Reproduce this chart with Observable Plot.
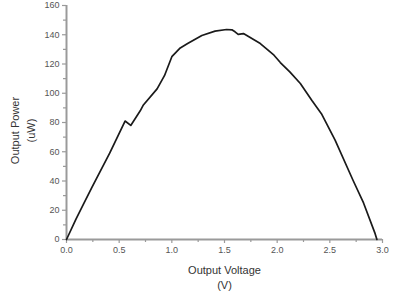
<!DOCTYPE html>
<html>
<head>
<meta charset="utf-8">
<script src="https://cdn.jsdelivr.net/npm/d3@7"></script>
<script src="https://cdn.jsdelivr.net/npm/@observablehq/plot@0.6"></script>
<style>
  html, body { margin: 0; padding: 0; background: #fff; }
</style>
</head>
<body>
<div id="chart"></div>
<script>
// Output voltage (V) and output power (uW)
const voltage = [0, 0.09, 0.16, 0.24, 0.41, 0.556, 0.61, 0.70, 0.73, 0.86, 0.93, 1.0, 1.08, 1.15, 1.285, 1.41, 1.52, 1.57, 1.60, 1.63, 1.68, 1.84, 1.97, 2.03, 2.12, 2.22, 2.33, 2.42, 2.55, 2.72, 2.82, 2.93, 2.947];
const power   = [0, 14, 24, 35.5, 59, 81, 78, 88, 92, 103, 112, 125, 131, 134, 139.5, 142.5, 143.6, 143.4, 142, 140.2, 140.8, 134, 126, 121, 114.6, 106.7, 95, 86, 68, 40.5, 25, 4, 0];

const xTicks = [0, 0.5, 1.0, 1.5, 2.0, 2.5, 3.0];
const xMinor = [0.25, 0.75, 1.25, 1.75, 2.25, 2.75];
const yTicks = [0, 20, 40, 60, 80, 100, 120, 140, 160];
const yMinor = [10, 30, 50, 70, 90, 110, 130, 150];

const xLabel = "Output Voltage";
const xUnit = "(V)";
const yLabel = "Output Power";
const yUnit = "(uW)";

const data = voltage.map((v, i) => ({v, p: power[i]}));

const axisColor = "#9a9a9a";
const textColor = "#555";

const chart = Plot.plot({
  width: 403,
  height: 294,
  marginLeft: 66,
  marginRight: 21,
  marginTop: 5,
  marginBottom: 55,
  style: {fontFamily: "'Liberation Sans', Arial, sans-serif", fontSize: "9px", color: textColor, background: "#fff"},
  x: {domain: [0, 3], label: null},
  y: {domain: [0, 160], label: null},
  marks: [
    Plot.axisX({ticks: xMinor, tickSize: 3, text: null, stroke: axisColor, strokeWidth: 1.2}),
    Plot.axisY({ticks: yMinor, tickSize: 3, text: null, stroke: axisColor, strokeWidth: 1.2}),
    Plot.axisX({ticks: xTicks, tickSize: 4, tickPadding: 3, tickFormat: d3.format(".1f"), stroke: axisColor, strokeWidth: 1.2, fill: textColor, fontSize: 9}),
    Plot.axisY({ticks: yTicks, tickSize: 4, tickPadding: 3, tickFormat: d3.format("d"), stroke: axisColor, strokeWidth: 1.2, fill: textColor, fontSize: 9}),
    Plot.ruleY([0], {stroke: axisColor, strokeWidth: 2}),
    Plot.ruleX([0], {stroke: axisColor, strokeWidth: 2}),
    Plot.line(data, {x: "v", y: "p", stroke: "#1a1a1a", strokeWidth: 1.7, strokeLinejoin: "round"}),
    Plot.text([xLabel], {frameAnchor: "bottom", dy: 31, fontSize: 11, fill: "#333", textAnchor: "middle", lineAnchor: "middle"}),
    Plot.text([xUnit], {frameAnchor: "bottom", dy: 46, fontSize: 11, fill: "#333", textAnchor: "middle", lineAnchor: "middle"}),
    Plot.text([yLabel], {frameAnchor: "left", dx: -51, dy: 8, rotate: -90, fontSize: 11, fill: "#333", textAnchor: "middle", lineAnchor: "middle"}),
    Plot.text([yUnit], {frameAnchor: "left", dx: -35, dy: 8, rotate: -90, fontSize: 11, fill: "#333", textAnchor: "middle", lineAnchor: "middle"})
  ]
});
document.getElementById("chart").appendChild(chart);
</script>
</body>
</html>
